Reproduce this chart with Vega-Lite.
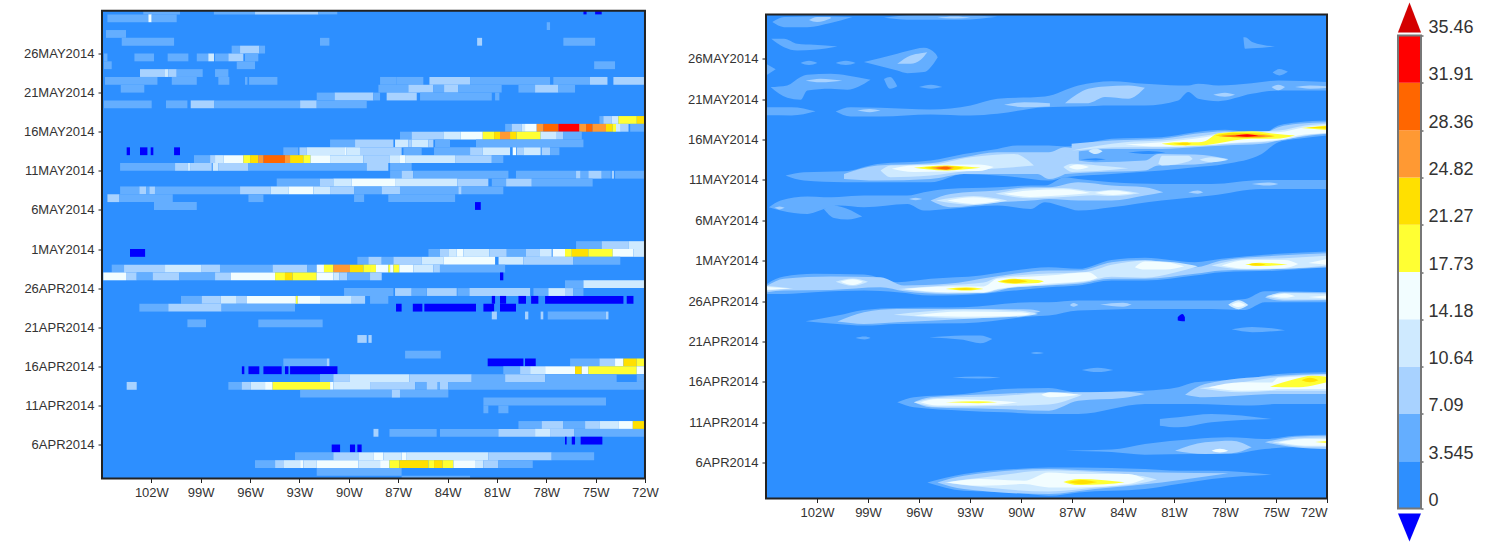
{"$schema":"https://vega.github.io/schema/vega-lite/v6.json","background":"white","padding":{"left":23,"top":1.5,"right":0,"bottom":0},"bounds":"flush","spacing":71,"config":{"view":{"stroke":null},"axis":{"grid":false,"domain":false,"labelFont":"Liberation Sans","labelFontSize":13,"labelColor":"#333","tickColor":"#222","tickSize":4,"labelPadding":4}},
"datasets":{"left":[
{"lon0":-102.49,"lon1":-100.26,"d0":61,"d1":61.48,"v":5},{"lon0":-98.2,"lon1":-95.7,"d0":61,"d1":61.48,"v":5},{"lon0":-95.7,"lon1":-91.85,"d0":61,"d1":61.48,"v":9},{"lon0":-91.85,"lon1":-90.7,"d0":61,"d1":61.48,"v":5},{"lon0":-75.74,"lon1":-75.55,"d0":61,"d1":61.48,"v":-2},{"lon0":-75.03,"lon1":-74.63,"d0":61,"d1":61.48,"v":-2},
{"lon0":-104.67,"lon1":-102.18,"d0":60,"d1":61,"v":5},{"lon0":-102.18,"lon1":-101.98,"d0":60,"d1":61,"v":16},{"lon0":-101.98,"lon1":-100.46,"d0":60,"d1":61,"v":5},
{"lon0":-77.97,"lon1":-77.77,"d0":59,"d1":60,"v":5},
{"lon0":-104.76,"lon1":-103.54,"d0":58,"d1":59,"v":5},
{"lon0":-103.8,"lon1":-100.62,"d0":57,"d1":58,"v":5},{"lon0":-91.75,"lon1":-91.18,"d0":57,"d1":58,"v":5},{"lon0":-82.2,"lon1":-81.9,"d0":57,"d1":58,"v":9},{"lon0":-76.96,"lon1":-75.03,"d0":57,"d1":58,"v":5},
{"lon0":-97.12,"lon1":-96.61,"d0":56,"d1":57,"v":5},{"lon0":-96.61,"lon1":-95.44,"d0":56,"d1":57,"v":9},{"lon0":-95.44,"lon1":-95.09,"d0":56,"d1":57,"v":5},
{"lon0":-104.88,"lon1":-104.67,"d0":55,"d1":56,"v":5},{"lon0":-103.03,"lon1":-101.84,"d0":55,"d1":56,"v":5},{"lon0":-101.01,"lon1":-99.75,"d0":55,"d1":56,"v":5},{"lon0":-99.24,"lon1":-98.54,"d0":55,"d1":56,"v":5},{"lon0":-98.54,"lon1":-98.19,"d0":55,"d1":56,"v":12},{"lon0":-98.13,"lon1":-97.32,"d0":55,"d1":56,"v":5},{"lon0":-97.32,"lon1":-96.41,"d0":55,"d1":56,"v":9},{"lon0":-96.31,"lon1":-95.5,"d0":55,"d1":56,"v":5},
{"lon0":-104.88,"lon1":-104.41,"d0":54,"d1":55,"v":5},{"lon0":-96.81,"lon1":-95.7,"d0":54,"d1":55,"v":5},{"lon0":-75.09,"lon1":-73.82,"d0":54,"d1":55,"v":5},
{"lon0":-102.69,"lon1":-101.17,"d0":53,"d1":54,"v":9},{"lon0":-101.17,"lon1":-100.97,"d0":53,"d1":54,"v":12},{"lon0":-100.97,"lon1":-100.46,"d0":53,"d1":54,"v":9},{"lon0":-100.46,"lon1":-98.88,"d0":53,"d1":54,"v":5},{"lon0":-98.13,"lon1":-97.32,"d0":53,"d1":54,"v":5},
{"lon0":-104.82,"lon1":-101.63,"d0":52,"d1":53,"v":5},{"lon0":-100.76,"lon1":-99.24,"d0":52,"d1":53,"v":5},{"lon0":-97.93,"lon1":-97.26,"d0":52,"d1":53,"v":5},{"lon0":-96.31,"lon1":-96.16,"d0":52,"d1":53,"v":5},{"lon0":-96.06,"lon1":-94.34,"d0":52,"d1":53,"v":5},{"lon0":-88.1,"lon1":-87.09,"d0":52,"d1":53,"v":5},{"lon0":-87.09,"lon1":-85.47,"d0":52,"d1":53,"v":5},{"lon0":-85.1,"lon1":-82.63,"d0":52,"d1":53,"v":9},{"lon0":-82.63,"lon1":-77.77,"d0":52,"d1":53,"v":5},{"lon0":-77.57,"lon1":-75.34,"d0":52,"d1":53,"v":5},{"lon0":-75.34,"lon1":-74.28,"d0":52,"d1":53,"v":9},{"lon0":-73.92,"lon1":-72,"d0":52,"d1":53,"v":9},
{"lon0":-103.86,"lon1":-102.43,"d0":51,"d1":52,"v":5},{"lon0":-88.2,"lon1":-86.38,"d0":51,"d1":52,"v":5},{"lon0":-86.38,"lon1":-84.86,"d0":51,"d1":52,"v":9},{"lon0":-84.86,"lon1":-84.21,"d0":51,"d1":52,"v":5},{"lon0":-84.21,"lon1":-83.34,"d0":51,"d1":52,"v":9},{"lon0":-83.34,"lon1":-80.71,"d0":51,"d1":52,"v":5},{"lon0":-79.69,"lon1":-78.68,"d0":51,"d1":52,"v":5},{"lon0":-78.68,"lon1":-77.26,"d0":51,"d1":52,"v":9},{"lon0":-77.26,"lon1":-76.25,"d0":51,"d1":52,"v":5},
{"lon0":-91.95,"lon1":-90.86,"d0":50,"d1":51,"v":5},{"lon0":-90.86,"lon1":-88.51,"d0":50,"d1":51,"v":9},{"lon0":-88.51,"lon1":-88.1,"d0":50,"d1":51,"v":5},{"lon0":-87.7,"lon1":-85.87,"d0":50,"d1":51,"v":9},{"lon0":-85.67,"lon1":-81.31,"d0":50,"d1":51,"v":5},{"lon0":-81.11,"lon1":-80.85,"d0":50,"d1":51,"v":5},
{"lon0":-104.88,"lon1":-101.98,"d0":49,"d1":50,"v":5},{"lon0":-101.11,"lon1":-99.81,"d0":49,"d1":50,"v":5},{"lon0":-99.61,"lon1":-98.17,"d0":49,"d1":50,"v":9},{"lon0":-98.17,"lon1":-92.96,"d0":49,"d1":50,"v":5},{"lon0":-92.96,"lon1":-91.95,"d0":49,"d1":50,"v":9},{"lon0":-91.95,"lon1":-88.91,"d0":49,"d1":50,"v":5},
{"lon0":-74.77,"lon1":-74.53,"d0":47,"d1":48,"v":5},{"lon0":-74.53,"lon1":-74.02,"d0":47,"d1":48,"v":9},{"lon0":-74.02,"lon1":-73.62,"d0":47,"d1":48,"v":12},{"lon0":-73.62,"lon1":-72.5,"d0":47,"d1":48,"v":19},{"lon0":-72.5,"lon1":-72,"d0":47,"d1":48,"v":23},
{"lon0":-80.5,"lon1":-80.1,"d0":46,"d1":47,"v":5},{"lon0":-80.1,"lon1":-79.49,"d0":46,"d1":47,"v":9},{"lon0":-79.49,"lon1":-79.29,"d0":46,"d1":47,"v":12},{"lon0":-79.29,"lon1":-78.58,"d0":46,"d1":47,"v":16},{"lon0":-78.58,"lon1":-78.18,"d0":46,"d1":47,"v":26},{"lon0":-78.18,"lon1":-77.26,"d0":46,"d1":47,"v":30},{"lon0":-77.26,"lon1":-75.99,"d0":46,"d1":47,"v":33},{"lon0":-75.99,"lon1":-75.58,"d0":46,"d1":47,"v":26},{"lon0":-75.58,"lon1":-75.18,"d0":46,"d1":47,"v":30},{"lon0":-75.18,"lon1":-74.37,"d0":46,"d1":47,"v":26},{"lon0":-74.37,"lon1":-73.96,"d0":46,"d1":47,"v":23},{"lon0":-73.96,"lon1":-73.76,"d0":46,"d1":47,"v":19},{"lon0":-73.76,"lon1":-73.47,"d0":46,"d1":47,"v":12},{"lon0":-73.47,"lon1":-73,"d0":46,"d1":47,"v":9},{"lon0":-72.9,"lon1":-72,"d0":46,"d1":47,"v":5},
{"lon0":-86.89,"lon1":-86.18,"d0":45,"d1":46,"v":5},{"lon0":-86.18,"lon1":-84.25,"d0":45,"d1":46,"v":9},{"lon0":-84.25,"lon1":-83.2,"d0":45,"d1":46,"v":12},{"lon0":-83.2,"lon1":-81.86,"d0":45,"d1":46,"v":16},{"lon0":-81.86,"lon1":-81.17,"d0":45,"d1":46,"v":19},{"lon0":-81.17,"lon1":-80.81,"d0":45,"d1":46,"v":23},{"lon0":-80.81,"lon1":-80.2,"d0":45,"d1":46,"v":26},{"lon0":-80.2,"lon1":-79.8,"d0":45,"d1":46,"v":23},{"lon0":-79.8,"lon1":-78.34,"d0":45,"d1":46,"v":19},{"lon0":-78.34,"lon1":-77.36,"d0":45,"d1":46,"v":12},{"lon0":-77.36,"lon1":-76.96,"d0":45,"d1":46,"v":9},{"lon0":-76.96,"lon1":-75.84,"d0":45,"d1":46,"v":5},
{"lon0":-91.14,"lon1":-89.62,"d0":44,"d1":45,"v":5},{"lon0":-89.62,"lon1":-87.29,"d0":44,"d1":45,"v":9},{"lon0":-87.19,"lon1":-86.38,"d0":44,"d1":45,"v":12},{"lon0":-86.38,"lon1":-86.18,"d0":44,"d1":45,"v":9},{"lon0":-86.18,"lon1":-85.16,"d0":44,"d1":45,"v":12},{"lon0":-85.16,"lon1":-84.86,"d0":44,"d1":45,"v":9},{"lon0":-84.76,"lon1":-83.85,"d0":44,"d1":45,"v":5},{"lon0":-82.27,"lon1":-75.74,"d0":44,"d1":45,"v":5},
{"lon0":-103.5,"lon1":-103.3,"d0":43,"d1":44,"v":-2},{"lon0":-102.69,"lon1":-102.24,"d0":43,"d1":44,"v":-2},{"lon0":-102.04,"lon1":-101.88,"d0":43,"d1":44,"v":-2},{"lon0":-100.62,"lon1":-100.26,"d0":43,"d1":44,"v":-2},{"lon0":-93.98,"lon1":-93.07,"d0":43,"d1":44,"v":5},{"lon0":-93,"lon1":-92.56,"d0":43,"d1":44,"v":9},{"lon0":-92.56,"lon1":-90.23,"d0":43,"d1":44,"v":12},{"lon0":-90.23,"lon1":-90.13,"d0":43,"d1":44,"v":16},{"lon0":-90.13,"lon1":-89.32,"d0":43,"d1":44,"v":12},{"lon0":-89.32,"lon1":-86.79,"d0":43,"d1":44,"v":9},{"lon0":-86.68,"lon1":-85.57,"d0":43,"d1":44,"v":5},{"lon0":-84.82,"lon1":-82.63,"d0":43,"d1":44,"v":5},{"lon0":-82.63,"lon1":-81.86,"d0":43,"d1":44,"v":9},{"lon0":-81.86,"lon1":-80.2,"d0":43,"d1":44,"v":12},{"lon0":-80.04,"lon1":-79.84,"d0":43,"d1":44,"v":16},{"lon0":-79.8,"lon1":-79.39,"d0":43,"d1":44,"v":9},{"lon0":-79.39,"lon1":-78.34,"d0":43,"d1":44,"v":12},{"lon0":-78.28,"lon1":-77.77,"d0":43,"d1":44,"v":9},{"lon0":-77.77,"lon1":-77.2,"d0":43,"d1":44,"v":5},
{"lon0":-99.41,"lon1":-98.43,"d0":42,"d1":43,"v":5},{"lon0":-98.43,"lon1":-98.13,"d0":42,"d1":43,"v":9},{"lon0":-98.13,"lon1":-97.62,"d0":42,"d1":43,"v":12},{"lon0":-97.62,"lon1":-96.41,"d0":42,"d1":43,"v":16},{"lon0":-96.41,"lon1":-96,"d0":42,"d1":43,"v":19},{"lon0":-96,"lon1":-95.5,"d0":42,"d1":43,"v":23},{"lon0":-95.5,"lon1":-95.19,"d0":42,"d1":43,"v":26},{"lon0":-95.19,"lon1":-93.88,"d0":42,"d1":43,"v":30},{"lon0":-93.88,"lon1":-93.57,"d0":42,"d1":43,"v":26},{"lon0":-93.57,"lon1":-92.76,"d0":42,"d1":43,"v":23},{"lon0":-92.76,"lon1":-92.32,"d0":42,"d1":43,"v":19},{"lon0":-92.32,"lon1":-91.14,"d0":42,"d1":43,"v":16},{"lon0":-91.14,"lon1":-89.11,"d0":42,"d1":43,"v":12},{"lon0":-89.11,"lon1":-87.53,"d0":42,"d1":43,"v":9},{"lon0":-87.53,"lon1":-86.89,"d0":42,"d1":43,"v":12},{"lon0":-86.89,"lon1":-86.58,"d0":42,"d1":43,"v":16},{"lon0":-86.58,"lon1":-83.54,"d0":42,"d1":43,"v":12},{"lon0":-83.54,"lon1":-81.31,"d0":42,"d1":43,"v":9},{"lon0":-81.31,"lon1":-80.61,"d0":42,"d1":43,"v":5},
{"lon0":-103.9,"lon1":-100.56,"d0":41,"d1":42,"v":5},{"lon0":-100.56,"lon1":-99.81,"d0":41,"d1":42,"v":9},{"lon0":-99.81,"lon1":-99.61,"d0":41,"d1":42,"v":12},{"lon0":-99.61,"lon1":-98.33,"d0":41,"d1":42,"v":9},{"lon0":-98.27,"lon1":-97.93,"d0":41,"d1":42,"v":12},{"lon0":-97.93,"lon1":-96.1,"d0":41,"d1":42,"v":9},{"lon0":-96.1,"lon1":-88.91,"d0":41,"d1":42,"v":5},{"lon0":-88.91,"lon1":-87.6,"d0":41,"d1":42,"v":9},{"lon0":-87.49,"lon1":-86.18,"d0":41,"d1":42,"v":5},
{"lon0":-87.49,"lon1":-86.79,"d0":40,"d1":41,"v":5},{"lon0":-86.79,"lon1":-86.08,"d0":40,"d1":41,"v":9},{"lon0":-86.08,"lon1":-80.3,"d0":40,"d1":41,"v":5},{"lon0":-79.84,"lon1":-76.19,"d0":40,"d1":41,"v":5},{"lon0":-76.19,"lon1":-75.91,"d0":40,"d1":41,"v":9},{"lon0":-75.91,"lon1":-75.44,"d0":40,"d1":41,"v":5},{"lon0":-75.44,"lon1":-74.63,"d0":40,"d1":41,"v":9},{"lon0":-74.63,"lon1":-74.08,"d0":40,"d1":41,"v":5},{"lon0":-74.02,"lon1":-73.88,"d0":40,"d1":41,"v":9},{"lon0":-73.82,"lon1":-72,"d0":40,"d1":41,"v":5},
{"lon0":-94.38,"lon1":-91.75,"d0":39,"d1":40,"v":5},{"lon0":-91.75,"lon1":-90.94,"d0":39,"d1":40,"v":9},{"lon0":-90.94,"lon1":-89.82,"d0":39,"d1":40,"v":12},{"lon0":-89.82,"lon1":-87.19,"d0":39,"d1":40,"v":16},{"lon0":-87.19,"lon1":-83.4,"d0":39,"d1":40,"v":12},{"lon0":-83.4,"lon1":-81.52,"d0":39,"d1":40,"v":9},{"lon0":-81.31,"lon1":-80.44,"d0":39,"d1":40,"v":5},{"lon0":-80.44,"lon1":-78.88,"d0":39,"d1":40,"v":9},{"lon0":-78.88,"lon1":-75.18,"d0":39,"d1":40,"v":5},
{"lon0":-103.9,"lon1":-102.73,"d0":38,"d1":39,"v":5},{"lon0":-102.73,"lon1":-102.32,"d0":38,"d1":39,"v":9},{"lon0":-102.32,"lon1":-102.12,"d0":38,"d1":39,"v":5},{"lon0":-102.12,"lon1":-101.78,"d0":38,"d1":39,"v":9},{"lon0":-101.78,"lon1":-96.61,"d0":38,"d1":39,"v":5},{"lon0":-96.61,"lon1":-94.75,"d0":38,"d1":39,"v":9},{"lon0":-94.75,"lon1":-93.67,"d0":38,"d1":39,"v":12},{"lon0":-93.67,"lon1":-92.15,"d0":38,"d1":39,"v":16},{"lon0":-92.15,"lon1":-91.14,"d0":38,"d1":39,"v":12},{"lon0":-91.14,"lon1":-89.68,"d0":38,"d1":39,"v":9},{"lon0":-89.68,"lon1":-88,"d0":38,"d1":39,"v":5},{"lon0":-88,"lon1":-86.89,"d0":38,"d1":39,"v":9},{"lon0":-86.89,"lon1":-83.34,"d0":38,"d1":39,"v":5},{"lon0":-83.34,"lon1":-83.14,"d0":38,"d1":39,"v":9},{"lon0":-83.14,"lon1":-80.61,"d0":38,"d1":39,"v":5},
{"lon0":-104.67,"lon1":-103.94,"d0":37,"d1":38,"v":9},{"lon0":-103.94,"lon1":-100.7,"d0":37,"d1":38,"v":5},{"lon0":-96.1,"lon1":-95.19,"d0":37,"d1":38,"v":5},{"lon0":-89.68,"lon1":-89.07,"d0":37,"d1":38,"v":5},{"lon0":-87.6,"lon1":-83.54,"d0":37,"d1":38,"v":5},
{"lon0":-101.84,"lon1":-99.24,"d0":36,"d1":37,"v":5},{"lon0":-82.33,"lon1":-81.98,"d0":36,"d1":37,"v":-2},
{"lon0":-76.19,"lon1":-74.63,"d0":31,"d1":32,"v":5},{"lon0":-74.63,"lon1":-73,"d0":31,"d1":32,"v":9},{"lon0":-73,"lon1":-72,"d0":31,"d1":32,"v":12},
{"lon0":-103.3,"lon1":-102.38,"d0":30,"d1":31,"v":-2},{"lon0":-85.16,"lon1":-84.46,"d0":30,"d1":31,"v":5},{"lon0":-84.46,"lon1":-83.95,"d0":30,"d1":31,"v":9},{"lon0":-83.95,"lon1":-83.44,"d0":30,"d1":31,"v":12},{"lon0":-83.44,"lon1":-83.04,"d0":30,"d1":31,"v":16},{"lon0":-83.04,"lon1":-81.46,"d0":30,"d1":31,"v":12},{"lon0":-81.46,"lon1":-80.4,"d0":30,"d1":31,"v":9},{"lon0":-80.4,"lon1":-79.23,"d0":30,"d1":31,"v":5},{"lon0":-79.23,"lon1":-78.42,"d0":30,"d1":31,"v":9},{"lon0":-78.42,"lon1":-77.67,"d0":30,"d1":31,"v":12},{"lon0":-77.61,"lon1":-76.86,"d0":30,"d1":31,"v":16},{"lon0":-76.86,"lon1":-76.45,"d0":30,"d1":31,"v":19},{"lon0":-76.45,"lon1":-75.44,"d0":30,"d1":31,"v":23},{"lon0":-75.44,"lon1":-73.96,"d0":30,"d1":31,"v":19},{"lon0":-73.96,"lon1":-72.7,"d0":30,"d1":31,"v":16},{"lon0":-72.7,"lon1":-72,"d0":30,"d1":31,"v":12},
{"lon0":-89.48,"lon1":-88.81,"d0":29,"d1":30,"v":5},{"lon0":-88.81,"lon1":-88,"d0":29,"d1":30,"v":9},{"lon0":-88,"lon1":-87.29,"d0":29,"d1":30,"v":5},{"lon0":-87.29,"lon1":-85.57,"d0":29,"d1":30,"v":9},{"lon0":-85.57,"lon1":-84.25,"d0":29,"d1":30,"v":12},{"lon0":-84.25,"lon1":-81.11,"d0":29,"d1":30,"v":16},{"lon0":-80.9,"lon1":-79.39,"d0":29,"d1":30,"v":12},{"lon0":-79.39,"lon1":-76.35,"d0":29,"d1":30,"v":9},{"lon0":-76.35,"lon1":-73.5,"d0":29,"d1":30,"v":5},
{"lon0":-104.41,"lon1":-103.66,"d0":28,"d1":29,"v":5},{"lon0":-103.66,"lon1":-101.17,"d0":28,"d1":29,"v":9},{"lon0":-101.17,"lon1":-98.94,"d0":28,"d1":29,"v":12},{"lon0":-98.94,"lon1":-97.83,"d0":28,"d1":29,"v":9},{"lon0":-97.83,"lon1":-94.63,"d0":28,"d1":29,"v":5},{"lon0":-94.63,"lon1":-92.52,"d0":28,"d1":29,"v":9},{"lon0":-92.52,"lon1":-91.95,"d0":28,"d1":29,"v":5},{"lon0":-91.95,"lon1":-91.51,"d0":28,"d1":29,"v":16},{"lon0":-91.51,"lon1":-90.94,"d0":28,"d1":29,"v":19},{"lon0":-90.94,"lon1":-89.93,"d0":28,"d1":29,"v":26},{"lon0":-89.93,"lon1":-89.11,"d0":28,"d1":29,"v":23},{"lon0":-89.11,"lon1":-88.71,"d0":28,"d1":29,"v":19},{"lon0":-88.71,"lon1":-88.35,"d0":28,"d1":29,"v":19},{"lon0":-88.35,"lon1":-87.6,"d0":28,"d1":29,"v":16},{"lon0":-87.6,"lon1":-87.49,"d0":28,"d1":29,"v":19},{"lon0":-87.49,"lon1":-87.29,"d0":28,"d1":29,"v":16},{"lon0":-87.29,"lon1":-86.93,"d0":28,"d1":29,"v":19},{"lon0":-86.93,"lon1":-86.08,"d0":28,"d1":29,"v":16},{"lon0":-86.08,"lon1":-84.86,"d0":28,"d1":29,"v":12},{"lon0":-84.86,"lon1":-84.46,"d0":28,"d1":29,"v":9},{"lon0":-84.46,"lon1":-80.5,"d0":28,"d1":29,"v":5},
{"lon0":-104.92,"lon1":-103.54,"d0":27,"d1":28,"v":16},{"lon0":-103.54,"lon1":-102.89,"d0":27,"d1":28,"v":9},{"lon0":-102.89,"lon1":-101.92,"d0":27,"d1":28,"v":5},{"lon0":-101.92,"lon1":-100.3,"d0":27,"d1":28,"v":9},{"lon0":-100.3,"lon1":-98.13,"d0":27,"d1":28,"v":5},{"lon0":-98.13,"lon1":-97.18,"d0":27,"d1":28,"v":9},{"lon0":-97.18,"lon1":-94.48,"d0":27,"d1":28,"v":16},{"lon0":-94.48,"lon1":-93.88,"d0":27,"d1":28,"v":19},{"lon0":-93.88,"lon1":-93.41,"d0":27,"d1":28,"v":23},{"lon0":-93.41,"lon1":-91.95,"d0":27,"d1":28,"v":19},{"lon0":-91.95,"lon1":-90.94,"d0":27,"d1":28,"v":16},{"lon0":-90.94,"lon1":-90.57,"d0":27,"d1":28,"v":12},{"lon0":-90.57,"lon1":-90.09,"d0":27,"d1":28,"v":9},{"lon0":-90.09,"lon1":-88.71,"d0":27,"d1":28,"v":5},{"lon0":-88.71,"lon1":-88,"d0":27,"d1":28,"v":9},{"lon0":-80.81,"lon1":-80.61,"d0":27,"d1":28,"v":-2},
{"lon0":-76.86,"lon1":-75.74,"d0":26,"d1":27,"v":5},{"lon0":-75.74,"lon1":-72,"d0":26,"d1":27,"v":12},
{"lon0":-90.29,"lon1":-87.29,"d0":25,"d1":26,"v":5},{"lon0":-87.19,"lon1":-86.18,"d0":25,"d1":26,"v":9},{"lon0":-86.18,"lon1":-85.31,"d0":25,"d1":26,"v":5},{"lon0":-85.27,"lon1":-83.44,"d0":25,"d1":26,"v":9},{"lon0":-83.4,"lon1":-82.67,"d0":25,"d1":26,"v":5},{"lon0":-82.67,"lon1":-78.98,"d0":25,"d1":26,"v":9},{"lon0":-78.78,"lon1":-77.87,"d0":25,"d1":26,"v":5},{"lon0":-77.87,"lon1":-76.86,"d0":25,"d1":26,"v":12},{"lon0":-76.86,"lon1":-76.35,"d0":25,"d1":26,"v":9},{"lon0":-76.35,"lon1":-75.74,"d0":25,"d1":26,"v":5},
{"lon0":-100.2,"lon1":-98.94,"d0":24,"d1":25,"v":5},{"lon0":-98.94,"lon1":-97.79,"d0":24,"d1":25,"v":9},{"lon0":-97.79,"lon1":-96.81,"d0":24,"d1":25,"v":12},{"lon0":-96.81,"lon1":-96.21,"d0":24,"d1":25,"v":9},{"lon0":-96.21,"lon1":-93.22,"d0":24,"d1":25,"v":16},{"lon0":-93.22,"lon1":-93.1,"d0":24,"d1":25,"v":19},{"lon0":-93.1,"lon1":-91.75,"d0":24,"d1":25,"v":16},{"lon0":-91.75,"lon1":-89.82,"d0":24,"d1":25,"v":12},{"lon0":-89.82,"lon1":-89.01,"d0":24,"d1":25,"v":9},{"lon0":-88.71,"lon1":-87.6,"d0":24,"d1":25,"v":5},{"lon0":-81.31,"lon1":-81.11,"d0":24,"d1":25,"v":-2},{"lon0":-80.81,"lon1":-80.44,"d0":24,"d1":25,"v":-2},{"lon0":-79.69,"lon1":-79.23,"d0":24,"d1":25,"v":-2},{"lon0":-78.92,"lon1":-78.48,"d0":24,"d1":25,"v":-2},{"lon0":-78.07,"lon1":-73.31,"d0":24,"d1":25,"v":-2},{"lon0":-73.11,"lon1":-72.7,"d0":24,"d1":25,"v":-2},
{"lon0":-102.73,"lon1":-100.97,"d0":23,"d1":24,"v":5},{"lon0":-100.97,"lon1":-97.73,"d0":23,"d1":24,"v":9},{"lon0":-97.73,"lon1":-93.27,"d0":23,"d1":24,"v":5},{"lon0":-87.13,"lon1":-86.79,"d0":23,"d1":24,"v":-2},{"lon0":-86.11,"lon1":-85.53,"d0":23,"d1":24,"v":-2},{"lon0":-85.41,"lon1":-82.27,"d0":23,"d1":24,"v":-2},{"lon0":-81.82,"lon1":-81.17,"d0":23,"d1":24,"v":-2},{"lon0":-80.81,"lon1":-79.84,"d0":23,"d1":24,"v":-2},
{"lon0":-81.31,"lon1":-81,"d0":22,"d1":23,"v":9},{"lon0":-79.29,"lon1":-79.09,"d0":22,"d1":23,"v":9},{"lon0":-78.34,"lon1":-78.18,"d0":22,"d1":23,"v":9},{"lon0":-77.91,"lon1":-74.37,"d0":22,"d1":23,"v":5},{"lon0":-74.37,"lon1":-74.22,"d0":22,"d1":23,"v":9},
{"lon0":-99.81,"lon1":-98.68,"d0":21,"d1":22,"v":5},{"lon0":-95.5,"lon1":-91.59,"d0":21,"d1":22,"v":5},
{"lon0":-89.48,"lon1":-88.91,"d0":19,"d1":20,"v":9},{"lon0":-88.81,"lon1":-88.61,"d0":19,"d1":20,"v":9},
{"lon0":-86.58,"lon1":-84.41,"d0":17,"d1":18,"v":5},
{"lon0":-93.98,"lon1":-91.34,"d0":16,"d1":17,"v":5},{"lon0":-91.34,"lon1":-91.18,"d0":16,"d1":17,"v":9},{"lon0":-81.56,"lon1":-79.39,"d0":16,"d1":17,"v":-2},{"lon0":-79.29,"lon1":-78.64,"d0":16,"d1":17,"v":-2},{"lon0":-76.55,"lon1":-74.77,"d0":16,"d1":17,"v":5},{"lon0":-74.77,"lon1":-73.82,"d0":16,"d1":17,"v":9},{"lon0":-73.82,"lon1":-73.31,"d0":16,"d1":17,"v":16},{"lon0":-73.31,"lon1":-72.5,"d0":16,"d1":17,"v":23},{"lon0":-72.5,"lon1":-72,"d0":16,"d1":17,"v":19},
{"lon0":-96.5,"lon1":-96.35,"d0":15,"d1":16,"v":-2},{"lon0":-96.1,"lon1":-95.44,"d0":15,"d1":16,"v":-2},{"lon0":-95.19,"lon1":-94.08,"d0":15,"d1":16,"v":-2},{"lon0":-93.88,"lon1":-93.67,"d0":15,"d1":16,"v":-2},{"lon0":-93.57,"lon1":-90.69,"d0":15,"d1":16,"v":-2},{"lon0":-80.61,"lon1":-79.59,"d0":15,"d1":16,"v":5},{"lon0":-79.59,"lon1":-78.98,"d0":15,"d1":16,"v":9},{"lon0":-78.98,"lon1":-78.07,"d0":15,"d1":16,"v":12},{"lon0":-78.07,"lon1":-76.25,"d0":15,"d1":16,"v":16},{"lon0":-76.25,"lon1":-75.84,"d0":15,"d1":16,"v":23},{"lon0":-75.84,"lon1":-75.44,"d0":15,"d1":16,"v":16},{"lon0":-75.44,"lon1":-72.5,"d0":15,"d1":16,"v":19},{"lon0":-72.5,"lon1":-72,"d0":15,"d1":16,"v":16},
{"lon0":-91.75,"lon1":-90.94,"d0":14,"d1":15,"v":5},{"lon0":-90.94,"lon1":-89.93,"d0":14,"d1":15,"v":9},{"lon0":-89.93,"lon1":-86.32,"d0":14,"d1":15,"v":12},{"lon0":-86.32,"lon1":-82.53,"d0":14,"d1":15,"v":9},{"lon0":-82.53,"lon1":-80.5,"d0":14,"d1":15,"v":5},{"lon0":-80.5,"lon1":-78.07,"d0":14,"d1":15,"v":9},{"lon0":-78.07,"lon1":-73.72,"d0":14,"d1":15,"v":5},{"lon0":-72.5,"lon1":-72,"d0":14,"d1":15,"v":5},
{"lon0":-103.5,"lon1":-102.89,"d0":13,"d1":14,"v":9},{"lon0":-97.32,"lon1":-96.51,"d0":13,"d1":14,"v":5},{"lon0":-96.51,"lon1":-95.96,"d0":13,"d1":14,"v":9},{"lon0":-95.96,"lon1":-95.09,"d0":13,"d1":14,"v":12},{"lon0":-95.09,"lon1":-94.63,"d0":13,"d1":14,"v":16},{"lon0":-94.63,"lon1":-91.14,"d0":13,"d1":14,"v":19},{"lon0":-91.14,"lon1":-90.94,"d0":13,"d1":14,"v":16},{"lon0":-90.94,"lon1":-88.67,"d0":13,"d1":14,"v":12},{"lon0":-88.67,"lon1":-85.97,"d0":13,"d1":14,"v":9},{"lon0":-85.97,"lon1":-85.27,"d0":13,"d1":14,"v":5},{"lon0":-85.27,"lon1":-84.6,"d0":13,"d1":14,"v":9},{"lon0":-84.6,"lon1":-84.46,"d0":13,"d1":14,"v":5},{"lon0":-84.46,"lon1":-83.95,"d0":13,"d1":14,"v":9},{"lon0":-83.95,"lon1":-72,"d0":13,"d1":14,"v":5},
{"lon0":-92.96,"lon1":-87.39,"d0":12,"d1":13,"v":5},{"lon0":-87.39,"lon1":-86.89,"d0":12,"d1":13,"v":9},{"lon0":-86.89,"lon1":-83.95,"d0":12,"d1":13,"v":5},
{"lon0":-81.82,"lon1":-74.37,"d0":11,"d1":12,"v":5},
{"lon0":-81.82,"lon1":-81.52,"d0":10,"d1":11,"v":5},{"lon0":-80.91,"lon1":-80.3,"d0":10,"d1":11,"v":5},
{"lon0":-79.69,"lon1":-78.28,"d0":8,"d1":9,"v":5},{"lon0":-78.28,"lon1":-76.96,"d0":8,"d1":9,"v":9},{"lon0":-76.96,"lon1":-75.64,"d0":8,"d1":9,"v":5},{"lon0":-75.64,"lon1":-74.77,"d0":8,"d1":9,"v":9},{"lon0":-74.77,"lon1":-73.62,"d0":8,"d1":9,"v":12},{"lon0":-73.62,"lon1":-72.74,"d0":8,"d1":9,"v":16},{"lon0":-72.74,"lon1":-72,"d0":8,"d1":9,"v":23},
{"lon0":-88.5,"lon1":-88.2,"d0":7,"d1":8,"v":9},{"lon0":-87.53,"lon1":-84.66,"d0":7,"d1":8,"v":5},{"lon0":-84.46,"lon1":-80.91,"d0":7,"d1":8,"v":5},{"lon0":-80.91,"lon1":-78.68,"d0":7,"d1":8,"v":9},{"lon0":-78.68,"lon1":-77.77,"d0":7,"d1":8,"v":12},{"lon0":-77.77,"lon1":-76.31,"d0":7,"d1":8,"v":9},{"lon0":-76.31,"lon1":-72,"d0":7,"d1":8,"v":5},
{"lon0":-76.86,"lon1":-76.76,"d0":6,"d1":7,"v":-2},{"lon0":-76.45,"lon1":-76.25,"d0":6,"d1":7,"v":-2},{"lon0":-75.91,"lon1":-74.59,"d0":6,"d1":7,"v":-2},
{"lon0":-91.04,"lon1":-90.53,"d0":5,"d1":6,"v":-2},{"lon0":-89.93,"lon1":-89.62,"d0":5,"d1":6,"v":-2},{"lon0":-89.48,"lon1":-89.22,"d0":5,"d1":6,"v":-2},
{"lon0":-93.27,"lon1":-90.94,"d0":4,"d1":5,"v":5},{"lon0":-90.94,"lon1":-89.42,"d0":4,"d1":5,"v":9},{"lon0":-89.42,"lon1":-88.51,"d0":4,"d1":5,"v":12},{"lon0":-88.51,"lon1":-87.9,"d0":4,"d1":5,"v":16},{"lon0":-87.9,"lon1":-86.79,"d0":4,"d1":5,"v":12},{"lon0":-86.79,"lon1":-86.48,"d0":4,"d1":5,"v":16},{"lon0":-86.48,"lon1":-81.52,"d0":4,"d1":5,"v":12},{"lon0":-81.52,"lon1":-77.67,"d0":4,"d1":5,"v":9},{"lon0":-77.67,"lon1":-75.09,"d0":4,"d1":5,"v":5},
{"lon0":-95.7,"lon1":-94.48,"d0":3,"d1":4,"v":5},{"lon0":-94.48,"lon1":-93.94,"d0":3,"d1":4,"v":9},{"lon0":-93.94,"lon1":-92.96,"d0":3,"d1":4,"v":12},{"lon0":-92.96,"lon1":-92.76,"d0":3,"d1":4,"v":16},{"lon0":-92.76,"lon1":-91.95,"d0":3,"d1":4,"v":12},{"lon0":-91.95,"lon1":-89.42,"d0":3,"d1":4,"v":16},{"lon0":-89.42,"lon1":-88.1,"d0":3,"d1":4,"v":12},{"lon0":-88.1,"lon1":-87.53,"d0":3,"d1":4,"v":16},{"lon0":-87.53,"lon1":-86.93,"d0":3,"d1":4,"v":19},{"lon0":-86.93,"lon1":-85.16,"d0":3,"d1":4,"v":23},{"lon0":-85.16,"lon1":-84.82,"d0":3,"d1":4,"v":19},{"lon0":-84.82,"lon1":-84.29,"d0":3,"d1":4,"v":23},{"lon0":-84.29,"lon1":-83.64,"d0":3,"d1":4,"v":19},{"lon0":-83.64,"lon1":-82.33,"d0":3,"d1":4,"v":16},{"lon0":-82.33,"lon1":-81.82,"d0":3,"d1":4,"v":12},{"lon0":-81.82,"lon1":-80.91,"d0":3,"d1":4,"v":9},{"lon0":-80.91,"lon1":-78.82,"d0":3,"d1":4,"v":5},
{"lon0":-91.95,"lon1":-86.79,"d0":2,"d1":3,"v":5},
{"lon0":-86.79,"lon1":-82.63,"d0":1.65,"d1":2,"v":5}
],"right":[
{"band":"A2","lon":-104.63,"lo":60.55,"hi":60.55,"v":5},{"band":"A2","lon":-103.94,"lo":59.93,"hi":61.17,"v":5},{"band":"A2","lon":-102.57,"lo":59.93,"hi":61.26,"v":5},{"band":"A2","lon":-101.2,"lo":60.43,"hi":61.26,"v":5},{"band":"A2","lon":-99.92,"lo":61.17,"hi":61.17,"v":5},
{"band":"A2b","lon":-98.06,"lo":61.1,"hi":61.1,"v":5},{"band":"A2b","lon":-96.3,"lo":60.84,"hi":61.4,"v":5},{"band":"A2b","lon":-93.5,"lo":60.84,"hi":61.4,"v":5},{"band":"A2b","lon":-91.39,"lo":61.2,"hi":61.2,"v":5},
{"band":"B2","lon":-104.69,"lo":58.49,"hi":58.49,"v":5},{"band":"B2","lon":-103.94,"lo":57.45,"hi":58.49,"v":5},{"band":"B2","lon":-103.16,"lo":57.04,"hi":57.87,"v":5},{"band":"B2","lon":-102.18,"lo":57.12,"hi":57.74,"v":5},{"band":"B2","lon":-100.8,"lo":57.54,"hi":57.54,"v":5},
{"band":"S1","lon":-102.96,"lo":55.5,"hi":55.5,"v":5},{"band":"S1","lon":-102.47,"lo":55.25,"hi":55.75,"v":5},{"band":"S1","lon":-101.98,"lo":55.5,"hi":55.5,"v":5},
{"band":"S2","lon":-100.9,"lo":55.5,"hi":55.5,"v":5},{"band":"S2","lon":-100.3,"lo":55.25,"hi":55.75,"v":5},{"band":"S2","lon":-99.73,"lo":55.5,"hi":55.5,"v":5},
{"band":"C2","lon":-99.24,"lo":55.6,"hi":55.6,"v":5},{"band":"C2","lon":-97.28,"lo":54.56,"hi":56.63,"v":5},{"band":"C2","lon":-96.69,"lo":54.23,"hi":56.96,"v":5},{"band":"C2","lon":-95.71,"lo":54.36,"hi":57.37,"v":5},{"band":"C2","lon":-95.02,"lo":55.8,"hi":56.63,"v":5},{"band":"C2","lon":-94.9,"lo":56.2,"hi":56.2,"v":5},
{"band":"E0","lon":-105,"lo":53.94,"hi":55.39,"v":5},{"band":"E0","lon":-104.43,"lo":54.7,"hi":54.7,"v":5},
{"band":"D2","lon":-104.73,"lo":52.5,"hi":52.5,"v":5},{"band":"D2","lon":-103.75,"lo":51.17,"hi":52.7,"v":5},{"band":"D2","lon":-102.96,"lo":50.93,"hi":53.74,"v":5},{"band":"D2","lon":-102.57,"lo":52.08,"hi":54.02,"v":5},{"band":"D2","lon":-101.2,"lo":52.29,"hi":54.15,"v":5},{"band":"D2","lon":-100.22,"lo":52.17,"hi":53.94,"v":5},{"band":"D2","lon":-98.85,"lo":53.4,"hi":53.4,"v":5},
{"band":"S3","lon":-98.06,"lo":53.5,"hi":53.5,"v":5},{"band":"S3","lon":-97.7,"lo":52.29,"hi":53.74,"v":5},{"band":"S3","lon":-97.28,"lo":52.6,"hi":52.6,"v":5},
{"band":"S4","lon":-96,"lo":52.5,"hi":52.5,"v":5},{"band":"S4","lon":-95.3,"lo":52.3,"hi":52.8,"v":5},{"band":"S4","lon":-94.63,"lo":52.5,"hi":52.5,"v":5},
{"band":"E2","lon":-105,"lo":49,"hi":50,"v":5},{"band":"E2","lon":-103.5,"lo":48.98,"hi":50.02,"v":5},{"band":"E2","lon":-102.08,"lo":49.5,"hi":49.5,"v":5},
{"band":"F2","lon":-100.9,"lo":49.48,"hi":49.48,"v":5},{"band":"F2","lon":-100.02,"lo":48.86,"hi":50.02,"v":5},{"band":"F2","lon":-98.26,"lo":48.86,"hi":49.93,"v":5},{"band":"F2","lon":-95.32,"lo":49.11,"hi":49.73,"v":5},{"band":"F2","lon":-92.96,"lo":48.98,"hi":50.22,"v":5},{"band":"F2","lon":-91.39,"lo":49.19,"hi":51.05,"v":5},{"band":"F2","lon":-88.59,"lo":50.02,"hi":51.34,"v":5},{"band":"F2","lon":-86.63,"lo":50.1,"hi":52.7,"v":5},{"band":"F2","lon":-84.67,"lo":50.22,"hi":53.24,"v":5},{"band":"F2","lon":-82.71,"lo":50.22,"hi":52.91,"v":5},{"band":"F2","lon":-80.75,"lo":50.84,"hi":52.7,"v":5},{"band":"F2","lon":-80.16,"lo":51.88,"hi":52.7,"v":5},{"band":"F2","lon":-79.57,"lo":51.05,"hi":52.91,"v":5},{"band":"F2","lon":-78.39,"lo":50.76,"hi":52.7,"v":5},{"band":"F2","lon":-76.43,"lo":51.67,"hi":52.99,"v":5},{"band":"F2","lon":-74.86,"lo":52.08,"hi":53.32,"v":5},{"band":"F2","lon":-72,"lo":52.08,"hi":53.12,"v":5},
{"band":"S5","lon":-76.92,"lo":58.69,"hi":58.69,"v":5},{"band":"S5","lon":-76.82,"lo":57.25,"hi":58.69,"v":5},{"band":"S5","lon":-76.4,"lo":57.3,"hi":58.1,"v":5},{"band":"S5","lon":-75.06,"lo":57.54,"hi":57.54,"v":5},
{"band":"S6","lon":-75.2,"lo":54.3,"hi":54.3,"v":5},{"band":"S6","lon":-74.8,"lo":53.95,"hi":54.75,"v":5},{"band":"S6","lon":-74.3,"lo":54.4,"hi":54.4,"v":5},
{"band":"G2","lon":-103.85,"lo":41.55,"hi":41.55,"v":5},{"band":"G2","lon":-102.77,"lo":40.93,"hi":41.96,"v":5},{"band":"G2","lon":-100.41,"lo":40.72,"hi":42.08,"v":5},{"band":"G2","lon":-98.45,"lo":40.72,"hi":42.99,"v":5},{"band":"G2","lon":-95.32,"lo":40.72,"hi":43.4,"v":5},{"band":"G2","lon":-93.36,"lo":41.75,"hi":44.23,"v":5},{"band":"G2","lon":-91.39,"lo":41.55,"hi":44.85,"v":5},{"band":"G2","lon":-90.22,"lo":41.34,"hi":45.26,"v":5},{"band":"G2","lon":-88.36,"lo":40.93,"hi":45.26,"v":5},{"band":"G2","lon":-87.41,"lo":41.34,"hi":45.14,"v":5},{"band":"G2","lon":-84.67,"lo":41.75,"hi":46.09,"v":5},{"band":"G2","lon":-81.73,"lo":42.17,"hi":46.3,"v":5},{"band":"G2","lon":-79.77,"lo":42.58,"hi":46.92,"v":5},{"band":"G2","lon":-78,"lo":42.99,"hi":47.21,"v":5},{"band":"G2","lon":-75.84,"lo":44.23,"hi":46.71,"v":5},{"band":"G2","lon":-74.86,"lo":45.68,"hi":47.74,"v":5},{"band":"G2","lon":-73.69,"lo":46.09,"hi":48.16,"v":5},{"band":"G2","lon":-72,"lo":46.5,"hi":48.36,"v":5},
{"band":"H2","lon":-104.83,"lo":37.62,"hi":37.62,"v":5},{"band":"H2","lon":-104.14,"lo":37.21,"hi":38.45,"v":5},{"band":"H2","lon":-102.57,"lo":36.79,"hi":38.94,"v":5},{"band":"H2","lon":-101.59,"lo":37.4,"hi":38.86,"v":5},{"band":"H2","lon":-100.71,"lo":37.83,"hi":38.9,"v":5},{"band":"H2","lon":-99.24,"lo":37.62,"hi":39.07,"v":5},{"band":"H2","lon":-96.69,"lo":38.03,"hi":39.07,"v":5},{"band":"H2","lon":-95.71,"lo":37.21,"hi":39.48,"v":5},{"band":"H2","lon":-94.34,"lo":37.41,"hi":39.89,"v":5},{"band":"H2","lon":-91.39,"lo":37.83,"hi":40.1,"v":5},{"band":"H2","lon":-89.43,"lo":37.41,"hi":40.31,"v":5},{"band":"H2","lon":-88.59,"lo":38.24,"hi":40.31,"v":5},{"band":"H2","lon":-87.41,"lo":37.62,"hi":41.34,"v":5},{"band":"H2","lon":-86.63,"lo":37.21,"hi":41.13,"v":5},{"band":"H2","lon":-84.67,"lo":37.62,"hi":40.72,"v":5},{"band":"H2","lon":-81.73,"lo":38.45,"hi":40.51,"v":5},{"band":"H2","lon":-78.79,"lo":39.07,"hi":40.51,"v":5},{"band":"H2","lon":-75.84,"lo":39.89,"hi":41.01,"v":5},{"band":"H2","lon":-72,"lo":39.89,"hi":41.01,"v":5},
{"band":"H2t","lon":-101.6,"lo":37.4,"hi":37.4,"v":5},{"band":"H2t","lon":-101,"lo":36.3,"hi":37.8,"v":5},{"band":"H2t","lon":-100.2,"lo":36.1,"hi":37.4,"v":5},{"band":"H2t","lon":-99.34,"lo":36.46,"hi":36.46,"v":5},
{"band":"I2","lon":-105,"lo":27,"hi":28,"v":5},{"band":"I2","lon":-104.92,"lo":26.89,"hi":28.13,"v":5},{"band":"I2","lon":-103.94,"lo":26.89,"hi":29.04,"v":5},{"band":"I2","lon":-102.18,"lo":27.09,"hi":29.37,"v":5},{"band":"I2","lon":-99.24,"lo":27.3,"hi":29.28,"v":5},{"band":"I2","lon":-97.28,"lo":27.09,"hi":28.33,"v":5},{"band":"I2","lon":-95.32,"lo":26.68,"hi":28.75,"v":5},{"band":"I2","lon":-92.37,"lo":26.89,"hi":29.16,"v":5},{"band":"I2","lon":-90.41,"lo":27.3,"hi":29.78,"v":5},{"band":"I2","lon":-88.36,"lo":27.71,"hi":30.19,"v":5},{"band":"I2","lon":-86.63,"lo":27.92,"hi":29.99,"v":5},{"band":"I2","lon":-84.67,"lo":28.54,"hi":31.1,"v":5},{"band":"I2","lon":-82.71,"lo":28.54,"hi":31.35,"v":5},{"band":"I2","lon":-79.77,"lo":29.16,"hi":30.81,"v":5},{"band":"I2","lon":-78.2,"lo":29.57,"hi":31.23,"v":5},{"band":"I2","lon":-74.86,"lo":29.78,"hi":31.85,"v":5},{"band":"I2","lon":-72,"lo":30.19,"hi":32.14,"v":5},
{"band":"J2","lon":-102.67,"lo":23.5,"hi":23.5,"v":5},{"band":"J2","lon":-100.8,"lo":23.17,"hi":24.2,"v":5},{"band":"J2","lon":-99.24,"lo":22.96,"hi":24.9,"v":5},{"band":"J2","lon":-97.28,"lo":23.17,"hi":25.15,"v":5},{"band":"J2","lon":-93.36,"lo":23.25,"hi":25.24,"v":5},{"band":"J2","lon":-89.43,"lo":24.08,"hi":25.85,"v":5},{"band":"J2","lon":-88.36,"lo":24.2,"hi":25.85,"v":5},{"band":"J2","lon":-86.63,"lo":24.82,"hi":26.06,"v":5},{"band":"J2","lon":-82.71,"lo":25.03,"hi":26.06,"v":5},{"band":"J2","lon":-78.79,"lo":25.03,"hi":26.06,"v":5},{"band":"J2","lon":-76.82,"lo":24.9,"hi":26.27,"v":5},{"band":"J2","lon":-75.65,"lo":25.85,"hi":27.22,"v":5},{"band":"J2","lon":-72,"lo":25.85,"hi":27.09,"v":5},
{"band":"T1","lon":-77.61,"lo":22.5,"hi":22.5,"v":5},{"band":"T1","lon":-76.4,"lo":22.15,"hi":22.8,"v":5},{"band":"T1","lon":-74.47,"lo":22.4,"hi":22.4,"v":5},
{"band":"T2","lon":-99.73,"lo":21.43,"hi":21.43,"v":5},{"band":"T2","lon":-99.2,"lo":21.25,"hi":21.6,"v":5},{"band":"T2","lon":-98.85,"lo":21.43,"hi":21.43,"v":5},
{"band":"T3","lon":-95.41,"lo":21.5,"hi":21.5,"v":5},{"band":"T3","lon":-93.4,"lo":21.2,"hi":21.75,"v":5},{"band":"T3","lon":-92.4,"lo":20.77,"hi":21.72,"v":5},{"band":"T3","lon":-91.69,"lo":21.3,"hi":21.3,"v":5},
{"band":"T4","lon":-89.43,"lo":19.57,"hi":19.57,"v":5},{"band":"T4","lon":-89.1,"lo":19.45,"hi":19.7,"v":5},{"band":"T4","lon":-88.65,"lo":19.57,"hi":19.57,"v":5},
{"band":"T5","lon":-86.43,"lo":17.47,"hi":17.47,"v":5},{"band":"T5","lon":-85.5,"lo":17.2,"hi":17.75,"v":5},{"band":"T5","lon":-84.57,"lo":17.47,"hi":17.47,"v":5},
{"band":"T6","lon":-94.04,"lo":16.52,"hi":16.52,"v":5},{"band":"T6","lon":-92.5,"lo":16.4,"hi":16.65,"v":5},{"band":"T6","lon":-91.2,"lo":16.52,"hi":16.52,"v":5},
{"band":"K2","lon":-97.28,"lo":13.46,"hi":13.46,"v":5},{"band":"K2","lon":-96.3,"lo":12.84,"hi":14.08,"v":5},{"band":"K2","lon":-93.36,"lo":12.43,"hi":14.49,"v":5},{"band":"K2","lon":-91,"lo":12.22,"hi":15.11,"v":5},{"band":"K2","lon":-88.36,"lo":12.01,"hi":15.24,"v":5},{"band":"K2","lon":-86.63,"lo":12.01,"hi":14.7,"v":5},{"band":"K2","lon":-82.71,"lo":13.25,"hi":14.9,"v":5},{"band":"K2","lon":-80.75,"lo":13.25,"hi":15.32,"v":5},{"band":"K2","lon":-79.77,"lo":13.25,"hi":15.94,"v":5},{"band":"K2","lon":-76.82,"lo":13.05,"hi":16.35,"v":5},{"band":"K2","lon":-74.86,"lo":13.25,"hi":16.97,"v":5},{"band":"K2","lon":-72,"lo":13.25,"hi":17.18,"v":5},
{"band":"L2","lon":-81.83,"lo":10.57,"hi":11.39,"v":5},{"band":"L2","lon":-80.75,"lo":10.36,"hi":11.6,"v":5},{"band":"L2","lon":-78.79,"lo":10.98,"hi":12.01,"v":5},{"band":"L2","lon":-75.26,"lo":11.39,"hi":11.39,"v":5},
{"band":"M2","lon":-87.41,"lo":7.47,"hi":7.47,"v":5},{"band":"M2","lon":-84.67,"lo":7.3,"hi":7.6,"v":5},{"band":"M2","lon":-82.71,"lo":6.97,"hi":8.29,"v":5},{"band":"M2","lon":-79.77,"lo":7.05,"hi":8.91,"v":5},{"band":"M2","lon":-77.81,"lo":7.05,"hi":9.12,"v":5},{"band":"M2","lon":-75.65,"lo":7.67,"hi":8.91,"v":5},{"band":"M2","lon":-73.88,"lo":7.88,"hi":9.33,"v":5},{"band":"M2","lon":-72,"lo":7.67,"hi":9.45,"v":5},
{"band":"N2","lon":-95.51,"lo":3.54,"hi":3.54,"v":5},{"band":"N2","lon":-93.36,"lo":2.51,"hi":4.57,"v":5},{"band":"N2","lon":-90.41,"lo":2.3,"hi":5.19,"v":5},{"band":"N2","lon":-88.36,"lo":1.89,"hi":5.4,"v":5},{"band":"N2","lon":-86.63,"lo":2.3,"hi":5.4,"v":5},{"band":"N2","lon":-82.71,"lo":2.71,"hi":5.19,"v":5},{"band":"N2","lon":-80.75,"lo":3.33,"hi":4.99,"v":5},{"band":"N2","lon":-78.79,"lo":3.95,"hi":4.99,"v":5},{"band":"N2","lon":-75.26,"lo":4.49,"hi":4.49,"v":5},
{"band":"H0","lon":-83.7,"lo":44.4,"hi":44.4,"v":2},{"band":"H0","lon":-82.5,"lo":44.2,"hi":44.6,"v":2},{"band":"H0","lon":-81.5,"lo":44.4,"hi":44.4,"v":2},
{"band":"H0b","lon":-86.5,"lo":43.55,"hi":43.55,"v":2},{"band":"H0b","lon":-85.6,"lo":43.4,"hi":43.7,"v":2},{"band":"H0b","lon":-85,"lo":43.55,"hi":43.55,"v":2},
{"band":"A3","lon":-102.47,"lo":60.8,"hi":60.8,"v":9},{"band":"A3","lon":-102,"lo":60.55,"hi":61.17,"v":9},{"band":"A3","lon":-101.2,"lo":61,"hi":61.17,"v":9},
{"band":"A3b","lon":-94.93,"lo":61.1,"hi":61.1,"v":9},{"band":"A3b","lon":-93.9,"lo":61.0,"hi":61.26,"v":9},{"band":"A3b","lon":-92.96,"lo":61.1,"hi":61.1,"v":9},
{"band":"C3","lon":-97.28,"lo":55.39,"hi":55.39,"v":9},{"band":"C3","lon":-96.49,"lo":55.39,"hi":56.42,"v":9},{"band":"C3","lon":-95.9,"lo":55.9,"hi":56.7,"v":9},{"band":"C3","lon":-95.51,"lo":56.83,"hi":56.83,"v":9},
{"band":"D3","lon":-102.67,"lo":53.3,"hi":53.3,"v":9},{"band":"D3","lon":-101.8,"lo":53.1,"hi":53.55,"v":9},{"band":"D3","lon":-100.51,"lo":53.3,"hi":53.3,"v":9},
{"band":"F3a","lon":-99.63,"lo":49.6,"hi":49.6,"v":9},{"band":"F3a","lon":-98.9,"lo":49.4,"hi":49.8,"v":9},{"band":"F3a","lon":-98.26,"lo":49.6,"hi":49.6,"v":9},
{"band":"F3b","lon":-91,"lo":50.3,"hi":50.3,"v":9},{"band":"F3b","lon":-89.8,"lo":50.02,"hi":50.64,"v":9},{"band":"F3b","lon":-88.3,"lo":50.1,"hi":50.5,"v":9},
{"band":"F3c","lon":-87.41,"lo":50.51,"hi":50.51,"v":9},{"band":"F3c","lon":-86.04,"lo":50.51,"hi":52.29,"v":9},{"band":"F3c","lon":-85.06,"lo":51.26,"hi":52.58,"v":9},{"band":"F3c","lon":-83.69,"lo":51.05,"hi":52.7,"v":9},{"band":"F3c","lon":-82.71,"lo":52.41,"hi":52.41,"v":9},
{"band":"F3d","lon":-78.69,"lo":51.55,"hi":51.55,"v":9},{"band":"F3d","lon":-78,"lo":51.3,"hi":51.8,"v":9},{"band":"F3d","lon":-77.41,"lo":51.55,"hi":51.55,"v":9},
{"band":"F3e","lon":-75.26,"lo":52.5,"hi":52.5,"v":9},{"band":"F3e","lon":-74.86,"lo":52.1,"hi":52.8,"v":9},{"band":"F3e","lon":-74.47,"lo":52.5,"hi":52.5,"v":9},
{"band":"F3f","lon":-73.88,"lo":52.5,"hi":52.5,"v":9},{"band":"F3f","lon":-73,"lo":52.3,"hi":52.7,"v":9},{"band":"F3f","lon":-72.02,"lo":52.4,"hi":52.6,"v":9},
{"band":"G3","lon":-100.41,"lo":41.13,"hi":41.75,"v":9},{"band":"G3","lon":-98.45,"lo":40.93,"hi":42.79,"v":9},{"band":"G3","lon":-95.32,"lo":41.13,"hi":43.07,"v":9},{"band":"G3","lon":-93.36,"lo":41.75,"hi":43.82,"v":9},{"band":"G3","lon":-91.39,"lo":41.75,"hi":44.44,"v":9},{"band":"G3","lon":-89.04,"lo":41.75,"hi":44.44,"v":9},{"band":"G3","lon":-88.36,"lo":41.13,"hi":44.44,"v":9},{"band":"G3","lon":-87.41,"lo":41.75,"hi":45.06,"v":9},{"band":"G3","lon":-86.6,"lo":43,"hi":44.8,"v":9},
{"band":"U3","lon":-87.02,"lo":44.44,"hi":45.47,"v":9},{"band":"U3","lon":-84.67,"lo":44.85,"hi":45.88,"v":9},{"band":"U3","lon":-81.73,"lo":44.85,"hi":46.09,"v":9},{"band":"U3","lon":-79.77,"lo":45.06,"hi":46.71,"v":9},{"band":"U3","lon":-78,"lo":45.26,"hi":47.04,"v":9},{"band":"U3","lon":-75.84,"lo":45.47,"hi":46.71,"v":9},{"band":"U3","lon":-74.86,"lo":45.88,"hi":47.54,"v":9},{"band":"U3","lon":-73.69,"lo":46.3,"hi":47.95,"v":9},{"band":"U3","lon":-72,"lo":46.71,"hi":48.16,"v":9},
{"band":"W3","lon":-87.41,"lo":41.75,"hi":43.82,"v":9},{"band":"W3","lon":-85.65,"lo":41.96,"hi":43.2,"v":9},{"band":"W3","lon":-82.71,"lo":42.17,"hi":43.4,"v":9},{"band":"W3","lon":-81.92,"lo":42.79,"hi":44.23,"v":9},{"band":"W3","lon":-79.77,"lo":42.91,"hi":44.15,"v":9},{"band":"W3","lon":-77.81,"lo":43.6,"hi":43.6,"v":9},
{"band":"H3","lon":-95.32,"lo":38.45,"hi":38.45,"v":9},{"band":"H3","lon":-94.14,"lo":37.62,"hi":39.27,"v":9},{"band":"H3","lon":-91.39,"lo":38.24,"hi":39.69,"v":9},{"band":"H3","lon":-89.43,"lo":38.45,"hi":40.1,"v":9},{"band":"H3","lon":-88.36,"lo":38.65,"hi":40.1,"v":9},{"band":"H3","lon":-86.63,"lo":38.45,"hi":40.72,"v":9},{"band":"H3","lon":-84.67,"lo":38.45,"hi":40.31,"v":9},{"band":"H3","lon":-82.71,"lo":39.07,"hi":40.1,"v":9},{"band":"H3","lon":-81.63,"lo":39.48,"hi":39.48,"v":9},
{"band":"H3a","lon":-80.16,"lo":39.48,"hi":39.48,"v":9},{"band":"H3a","lon":-79.6,"lo":39.3,"hi":39.7,"v":9},{"band":"H3a","lon":-79.28,"lo":39.48,"hi":39.48,"v":9},
{"band":"H3b","lon":-96.59,"lo":38.65,"hi":38.65,"v":9},{"band":"H3b","lon":-96.2,"lo":38.5,"hi":38.8,"v":9},{"band":"H3b","lon":-95.8,"lo":38.65,"hi":38.65,"v":9},
{"band":"H3c","lon":-104.5,"lo":37.55,"hi":37.55,"v":9},{"band":"H3c","lon":-104.2,"lo":37.35,"hi":37.7,"v":9},{"band":"H3c","lon":-103.9,"lo":37.55,"hi":37.55,"v":9},
{"band":"H3d","lon":-76.43,"lo":40.5,"hi":40.5,"v":9},{"band":"H3d","lon":-75.5,"lo":40.3,"hi":40.7,"v":9},{"band":"H3d","lon":-74.86,"lo":40.5,"hi":40.5,"v":9},
{"band":"I3","lon":-104.92,"lo":27.09,"hi":27.92,"v":9},{"band":"I3","lon":-103.94,"lo":27.3,"hi":28.75,"v":9},{"band":"I3","lon":-101.2,"lo":27.38,"hi":29.04,"v":9},{"band":"I3","lon":-98.26,"lo":27.71,"hi":28.95,"v":9},{"band":"I3","lon":-96.88,"lo":27.22,"hi":27.92,"v":9},{"band":"I3","lon":-94.34,"lo":26.89,"hi":28.13,"v":9},{"band":"I3","lon":-91.79,"lo":27.09,"hi":28.95,"v":9},{"band":"I3","lon":-90.41,"lo":27.71,"hi":29.37,"v":9},{"band":"I3","lon":-88.36,"lo":27.92,"hi":29.78,"v":9},{"band":"I3","lon":-86.63,"lo":28.13,"hi":29.78,"v":9},{"band":"I3","lon":-84.67,"lo":28.75,"hi":30.81,"v":9},{"band":"I3","lon":-82.71,"lo":28.75,"hi":31.1,"v":9},{"band":"I3","lon":-79.77,"lo":29.37,"hi":30.19,"v":9},{"band":"I3","lon":-78.2,"lo":29.78,"hi":31.02,"v":9},{"band":"I3","lon":-74.86,"lo":29.99,"hi":31.64,"v":9},{"band":"I3","lon":-72,"lo":30.19,"hi":31.93,"v":9},
{"band":"J3","lon":-100.8,"lo":23.46,"hi":23.46,"v":9},{"band":"J3","lon":-99.24,"lo":23.17,"hi":24.62,"v":9},{"band":"J3","lon":-97.28,"lo":23.38,"hi":25.03,"v":9},{"band":"J3","lon":-93.36,"lo":23.79,"hi":25.03,"v":9},{"band":"J3","lon":-89.43,"lo":24.41,"hi":24.95,"v":9},{"band":"J3","lon":-88.85,"lo":24.7,"hi":24.7,"v":9},
{"band":"J3a","lon":-87.12,"lo":25.52,"hi":25.52,"v":9},{"band":"J3a","lon":-86.9,"lo":25.3,"hi":25.75,"v":9},{"band":"J3a","lon":-86.63,"lo":25.5,"hi":25.5,"v":9},
{"band":"J3b","lon":-85.35,"lo":25.56,"hi":25.56,"v":9},{"band":"J3b","lon":-84,"lo":25.3,"hi":25.8,"v":9},{"band":"J3b","lon":-83.49,"lo":25.56,"hi":25.56,"v":9},
{"band":"J3c","lon":-75.65,"lo":26.4,"hi":26.4,"v":9},{"band":"J3c","lon":-74.6,"lo":26.05,"hi":27.1,"v":9},{"band":"J3c","lon":-72,"lo":26.1,"hi":27.05,"v":9},
{"band":"K3","lon":-96.3,"lo":13.46,"hi":13.46,"v":9},{"band":"K3","lon":-95.32,"lo":12.84,"hi":14.08,"v":9},{"band":"K3","lon":-91.39,"lo":12.63,"hi":14.49,"v":9},{"band":"K3","lon":-88.36,"lo":12.43,"hi":14.7,"v":9},{"band":"K3","lon":-86.63,"lo":13.66,"hi":14.7,"v":9},{"band":"K3","lon":-84,"lo":14,"hi":14.8,"v":9},{"band":"K3","lon":-82.71,"lo":14.49,"hi":14.49,"v":9},
{"band":"K3b","lon":-80.35,"lo":14.41,"hi":14.41,"v":9},{"band":"K3b","lon":-79.18,"lo":14.08,"hi":15.73,"v":9},{"band":"K3b","lon":-74.86,"lo":14.49,"hi":16.76,"v":9},{"band":"K3b","lon":-72,"lo":14.49,"hi":16.97,"v":9},
{"band":"M3","lon":-80.94,"lo":7.47,"hi":7.47,"v":9},{"band":"M3","lon":-79.18,"lo":7.05,"hi":8.5,"v":9},{"band":"M3","lon":-77.61,"lo":7.14,"hi":8.71,"v":9},{"band":"M3","lon":-76.43,"lo":7.88,"hi":7.88,"v":9},
{"band":"M3b","lon":-75.65,"lo":8.5,"hi":8.5,"v":9},{"band":"M3b","lon":-73.88,"lo":7.88,"hi":9.2,"v":9},{"band":"M3b","lon":-72,"lo":7.67,"hi":9.33,"v":9},
{"band":"N3","lon":-94.92,"lo":3.54,"hi":3.54,"v":9},{"band":"N3","lon":-93.36,"lo":2.71,"hi":4.37,"v":9},{"band":"N3","lon":-88.36,"lo":2.09,"hi":5.19,"v":9},{"band":"N3","lon":-85.65,"lo":2.71,"hi":4.99,"v":9},{"band":"N3","lon":-81.73,"lo":3.54,"hi":4.78,"v":9},{"band":"N3","lon":-77.81,"lo":4.66,"hi":4.66,"v":9},
{"band":"G4","lon":-98.26,"lo":42.17,"hi":42.17,"v":12},{"band":"G4","lon":-97.67,"lo":41.34,"hi":42.79,"v":12},{"band":"G4","lon":-95.32,"lo":41.55,"hi":42.91,"v":12},{"band":"G4","lon":-92.96,"lo":42.17,"hi":43.82,"v":12},{"band":"G4","lon":-90.41,"lo":42.58,"hi":44.23,"v":12},{"band":"G4","lon":-89.24,"lo":42.79,"hi":42.79,"v":12},
{"band":"U4","lon":-87.02,"lo":44.64,"hi":44.64,"v":12},{"band":"U4","lon":-83.88,"lo":45.06,"hi":45.68,"v":12},{"band":"U4","lon":-81.73,"lo":45.06,"hi":45.88,"v":12},{"band":"U4","lon":-79.18,"lo":45.26,"hi":46.5,"v":12},{"band":"U4","lon":-77.81,"lo":45.47,"hi":46.92,"v":12},{"band":"U4","lon":-74.86,"lo":45.88,"hi":47.12,"v":12},{"band":"U4","lon":-73.3,"lo":46.5,"hi":47.74,"v":12},{"band":"U4","lon":-72,"lo":46.92,"hi":47.95,"v":12},
{"band":"W4a","lon":-87.51,"lo":42.6,"hi":42.6,"v":12},{"band":"W4a","lon":-87,"lo":42,"hi":43,"v":12},{"band":"W4a","lon":-85.5,"lo":42.1,"hi":42.8,"v":12},{"band":"W4a","lon":-83.69,"lo":42.45,"hi":42.45,"v":12},
{"band":"W4b","lon":-81.92,"lo":43,"hi":43,"v":12},{"band":"W4b","lon":-81.7,"lo":42.8,"hi":44,"v":12},{"band":"W4b","lon":-80.16,"lo":43.3,"hi":44,"v":12},{"band":"W4b","lon":-79.9,"lo":43.6,"hi":43.6,"v":12},
{"band":"W4c","lon":-79.5,"lo":43.5,"hi":43.5,"v":12},{"band":"W4c","lon":-78.8,"lo":43.2,"hi":43.8,"v":12},{"band":"W4c","lon":-77.8,"lo":43.5,"hi":43.5,"v":12},
{"band":"W4d","lon":-86.04,"lo":44.6,"hi":44.6,"v":12},{"band":"W4d","lon":-85.6,"lo":44.2,"hi":44.9,"v":12},{"band":"W4d","lon":-85.2,"lo":44.55,"hi":44.55,"v":12},
{"band":"H4","lon":-95,"lo":38.45,"hi":38.45,"v":12},{"band":"H4","lon":-92.8,"lo":37.9,"hi":39,"v":12},{"band":"H4","lon":-90.8,"lo":38.45,"hi":38.45,"v":12},
{"band":"H4b","lon":-91.5,"lo":39.3,"hi":39.3,"v":12},{"band":"H4b","lon":-89.5,"lo":38.75,"hi":39.95,"v":12},{"band":"H4b","lon":-87.5,"lo":38.9,"hi":40,"v":12},{"band":"H4b","lon":-85.7,"lo":39.1,"hi":39.6,"v":12},{"band":"H4b","lon":-84.6,"lo":39,"hi":39.8,"v":12},{"band":"H4b","lon":-83,"lo":39.35,"hi":39.35,"v":12},
{"band":"I4a","lon":-105,"lo":27.3,"hi":27.9,"v":12},{"band":"I4a","lon":-103.4,"lo":27.55,"hi":27.55,"v":12},
{"band":"I4b","lon":-100.9,"lo":28.4,"hi":28.4,"v":12},{"band":"I4b","lon":-99.9,"lo":27.9,"hi":28.8,"v":12},{"band":"I4b","lon":-99,"lo":28.4,"hi":28.4,"v":12},
{"band":"I4c","lon":-97.2,"lo":27.5,"hi":27.5,"v":12},{"band":"I4c","lon":-94.3,"lo":27,"hi":27.95,"v":12},{"band":"I4c","lon":-92.2,"lo":27,"hi":28.3,"v":12},{"band":"I4c","lon":-91.4,"lo":27.4,"hi":28.9,"v":12},{"band":"I4c","lon":-88.4,"lo":28,"hi":29.4,"v":12},{"band":"I4c","lon":-86.2,"lo":28.4,"hi":29.6,"v":12},{"band":"I4c","lon":-84.67,"lo":29,"hi":30.5,"v":12},{"band":"I4c","lon":-82.7,"lo":28.9,"hi":31,"v":12},{"band":"I4c","lon":-81,"lo":29.5,"hi":30.8,"v":12},{"band":"I4c","lon":-79.6,"lo":30.3,"hi":30.3,"v":12},
{"band":"I4e","lon":-78.8,"lo":30.4,"hi":30.4,"v":12},{"band":"I4e","lon":-76.7,"lo":29.9,"hi":31.2,"v":12},{"band":"I4e","lon":-74.5,"lo":30,"hi":31.3,"v":12},{"band":"I4e","lon":-72,"lo":30.4,"hi":31.6,"v":12},
{"band":"J4","lon":-97.5,"lo":24.3,"hi":24.3,"v":12},{"band":"J4","lon":-93.4,"lo":23.85,"hi":24.95,"v":12},{"band":"J4","lon":-90,"lo":24.1,"hi":24.8,"v":12},{"band":"J4","lon":-89,"lo":24.4,"hi":24.4,"v":12},
{"band":"J4b","lon":-77.81,"lo":25.55,"hi":25.55,"v":12},{"band":"J4b","lon":-77.2,"lo":25,"hi":26.1,"v":12},{"band":"J4b","lon":-76.63,"lo":25.5,"hi":25.5,"v":12},
{"band":"J4c","lon":-75.6,"lo":26.6,"hi":26.6,"v":12},{"band":"J4c","lon":-74.5,"lo":26.2,"hi":27,"v":12},{"band":"J4c","lon":-72,"lo":26.2,"hi":26.9,"v":12},
{"band":"K4","lon":-96.3,"lo":13.46,"hi":13.46,"v":12},{"band":"K4","lon":-94.9,"lo":12.9,"hi":14,"v":12},{"band":"K4","lon":-91.39,"lo":13,"hi":14.2,"v":12},{"band":"K4","lon":-88.36,"lo":13.2,"hi":14.6,"v":12},{"band":"K4","lon":-86.4,"lo":14.4,"hi":14.4,"v":12},
{"band":"K4b","lon":-79.5,"lo":15.2,"hi":15.2,"v":12},{"band":"K4b","lon":-77,"lo":14.7,"hi":15.95,"v":12},{"band":"K4b","lon":-74.86,"lo":14.9,"hi":16.6,"v":12},{"band":"K4b","lon":-72,"lo":14.9,"hi":16.9,"v":12},
{"band":"M4","lon":-75.2,"lo":8.5,"hi":8.5,"v":12},{"band":"M4","lon":-73.3,"lo":7.95,"hi":9.05,"v":12},{"band":"M4","lon":-72,"lo":7.95,"hi":9.1,"v":12},
{"band":"N4","lon":-94.5,"lo":3.54,"hi":3.54,"v":12},{"band":"N4","lon":-92,"lo":2.9,"hi":4.2,"v":12},{"band":"N4","lon":-88.36,"lo":2.4,"hi":5,"v":12},{"band":"N4","lon":-85.6,"lo":2.9,"hi":4.8,"v":12},{"band":"N4","lon":-82.8,"lo":3.5,"hi":4.3,"v":12},{"band":"N4","lon":-82,"lo":3.9,"hi":3.9,"v":12},
{"band":"G5","lon":-97.6,"lo":42.4,"hi":42.4,"v":16},{"band":"G5","lon":-96.3,"lo":42,"hi":42.8,"v":16},{"band":"G5","lon":-92.5,"lo":42.1,"hi":42.9,"v":16},{"band":"G5","lon":-91.6,"lo":42.6,"hi":42.6,"v":16},
{"band":"U5","lon":-83.88,"lo":45.4,"hi":45.4,"v":16},{"band":"U5","lon":-81.73,"lo":45.14,"hi":45.68,"v":16},{"band":"U5","lon":-79.18,"lo":45.34,"hi":46.3,"v":16},{"band":"U5","lon":-77.81,"lo":45.55,"hi":46.79,"v":16},{"band":"U5","lon":-74.86,"lo":45.97,"hi":46.92,"v":16},{"band":"U5","lon":-73.3,"lo":46.63,"hi":47.54,"v":16},{"band":"U5","lon":-72,"lo":46.79,"hi":47.74,"v":16},
{"band":"W5","lon":-87.2,"lo":42.6,"hi":42.6,"v":16},{"band":"W5","lon":-86.7,"lo":42.3,"hi":42.9,"v":16},{"band":"W5","lon":-86,"lo":42.6,"hi":42.6,"v":16},
{"band":"H5a","lon":-94.34,"lo":38.45,"hi":38.45,"v":16},{"band":"H5a","lon":-92.8,"lo":38.03,"hi":38.86,"v":16},{"band":"H5a","lon":-91.2,"lo":38.45,"hi":38.45,"v":16},
{"band":"H5b","lon":-91,"lo":39.3,"hi":39.3,"v":16},{"band":"H5b","lon":-89.5,"lo":38.9,"hi":39.7,"v":16},{"band":"H5b","lon":-87.5,"lo":39.1,"hi":39.85,"v":16},{"band":"H5b","lon":-85.94,"lo":39.4,"hi":39.4,"v":16},
{"band":"H5c","lon":-85.65,"lo":39.4,"hi":39.4,"v":16},{"band":"H5c","lon":-84.6,"lo":39.15,"hi":39.7,"v":16},{"band":"H5c","lon":-83.39,"lo":39.35,"hi":39.35,"v":16},
{"band":"I5a","lon":-104.92,"lo":27.4,"hi":27.75,"v":16},{"band":"I5a","lon":-103.6,"lo":27.55,"hi":27.55,"v":16},
{"band":"I5b","lon":-100.6,"lo":28.4,"hi":28.4,"v":16},{"band":"I5b","lon":-99.9,"lo":28,"hi":28.7,"v":16},{"band":"I5b","lon":-99.3,"lo":28.4,"hi":28.4,"v":16},
{"band":"I5c","lon":-96.88,"lo":27.5,"hi":27.5,"v":16},{"band":"I5c","lon":-94.3,"lo":27.1,"hi":27.8,"v":16},{"band":"I5c","lon":-92.2,"lo":27.1,"hi":27.8,"v":16},{"band":"I5c","lon":-91.39,"lo":27.5,"hi":28.75,"v":16},{"band":"I5c","lon":-88.36,"lo":28.13,"hi":29.16,"v":16},{"band":"I5c","lon":-86.04,"lo":28.54,"hi":29.57,"v":16},{"band":"I5c","lon":-85.5,"lo":28.9,"hi":28.9,"v":16},
{"band":"I5d","lon":-83.3,"lo":30.2,"hi":30.2,"v":16},{"band":"I5d","lon":-82.7,"lo":29.9,"hi":30.9,"v":16},{"band":"I5d","lon":-81.5,"lo":29.9,"hi":30.8,"v":16},{"band":"I5d","lon":-80.4,"lo":30.3,"hi":30.3,"v":16},
{"band":"I5e","lon":-78.2,"lo":30.4,"hi":30.4,"v":16},{"band":"I5e","lon":-76.7,"lo":30,"hi":31.1,"v":16},{"band":"I5e","lon":-74.5,"lo":30.1,"hi":31.1,"v":16},{"band":"I5e","lon":-73.7,"lo":30.6,"hi":30.6,"v":16},
{"band":"I5f","lon":-73.1,"lo":30.7,"hi":30.7,"v":16},{"band":"I5f","lon":-72,"lo":30.5,"hi":31.2,"v":16},
{"band":"J5","lon":-96.3,"lo":24.2,"hi":24.2,"v":16},{"band":"J5","lon":-93.4,"lo":24.05,"hi":24.7,"v":16},{"band":"J5","lon":-90,"lo":24.2,"hi":24.6,"v":16},{"band":"J5","lon":-89.43,"lo":24.4,"hi":24.4,"v":16},
{"band":"J5b","lon":-77.6,"lo":25.55,"hi":25.55,"v":16},{"band":"J5b","lon":-77.2,"lo":25.25,"hi":25.85,"v":16},{"band":"J5b","lon":-76.8,"lo":25.5,"hi":25.5,"v":16},
{"band":"J5c","lon":-75.25,"lo":26.6,"hi":26.6,"v":16},{"band":"J5c","lon":-74.5,"lo":26.4,"hi":26.9,"v":16},{"band":"J5c","lon":-73.88,"lo":26.6,"hi":26.6,"v":16},
{"band":"J5d","lon":-73.1,"lo":26.5,"hi":26.5,"v":16},{"band":"J5d","lon":-72,"lo":26.3,"hi":26.7,"v":16},
{"band":"K5","lon":-95.9,"lo":13.46,"hi":13.46,"v":16},{"band":"K5","lon":-94.92,"lo":13.05,"hi":13.87,"v":16},{"band":"K5","lon":-91.39,"lo":13.17,"hi":13.66,"v":16},{"band":"K5","lon":-90.2,"lo":13.46,"hi":13.46,"v":16},
{"band":"K5a","lon":-88.8,"lo":14.4,"hi":14.4,"v":16},{"band":"K5a","lon":-88.3,"lo":14.08,"hi":14.7,"v":16},{"band":"K5a","lon":-86.6,"lo":14.4,"hi":14.4,"v":16},
{"band":"K5b","lon":-78.98,"lo":15.3,"hi":15.3,"v":16},{"band":"K5b","lon":-77,"lo":14.9,"hi":15.94,"v":16},{"band":"K5b","lon":-75.26,"lo":15,"hi":15.9,"v":16},{"band":"K5b","lon":-74.86,"lo":15.11,"hi":16.5,"v":16},{"band":"K5b","lon":-72,"lo":15.11,"hi":16.76,"v":16},
{"band":"M5","lon":-78.79,"lo":7.47,"hi":7.47,"v":16},{"band":"M5","lon":-78.3,"lo":7.25,"hi":7.7,"v":16},{"band":"M5","lon":-77.81,"lo":7.47,"hi":7.47,"v":16},
{"band":"M5b","lon":-74.86,"lo":8.5,"hi":8.5,"v":16},{"band":"M5b","lon":-73.3,"lo":8.09,"hi":8.91,"v":16},{"band":"M5b","lon":-72,"lo":8.09,"hi":8.91,"v":16},
{"band":"N5","lon":-94.34,"lo":3.54,"hi":3.54,"v":16},{"band":"N5","lon":-92.37,"lo":3.13,"hi":3.95,"v":16},{"band":"N5","lon":-89.83,"lo":3.33,"hi":3.75,"v":16},{"band":"N5","lon":-88.36,"lo":2.92,"hi":4.78,"v":16},{"band":"N5","lon":-86.63,"lo":2.92,"hi":4.57,"v":16},{"band":"N5","lon":-83.69,"lo":3.33,"hi":4.57,"v":16},{"band":"N5","lon":-82.71,"lo":3.95,"hi":3.95,"v":16},
{"band":"G6","lon":-96.3,"lo":42.5,"hi":42.5,"v":19},{"band":"G6","lon":-94.5,"lo":42.17,"hi":42.79,"v":19},{"band":"G6","lon":-92.37,"lo":42.5,"hi":42.5,"v":19},
{"band":"U6","lon":-81.73,"lo":45.5,"hi":45.5,"v":19},{"band":"U6","lon":-80.75,"lo":45.26,"hi":45.68,"v":19},{"band":"U6","lon":-79.57,"lo":45.26,"hi":45.68,"v":19},{"band":"U6","lon":-79.18,"lo":45.3,"hi":45.8,"v":19},{"band":"U6","lon":-78.39,"lo":45.55,"hi":46.79,"v":19},{"band":"U6","lon":-76.43,"lo":46.09,"hi":47.04,"v":19},{"band":"U6","lon":-75.06,"lo":46.09,"hi":46.71,"v":19},{"band":"U6","lon":-73.88,"lo":46.5,"hi":46.5,"v":19},
{"band":"U6b","lon":-73.5,"lo":47.45,"hi":47.45,"v":19},{"band":"U6b","lon":-72,"lo":47.2,"hi":47.75,"v":19},
{"band":"I6a","lon":-94.43,"lo":27.5,"hi":27.5,"v":19},{"band":"I6a","lon":-93.2,"lo":27.3,"hi":27.7,"v":19},{"band":"I6a","lon":-92.2,"lo":27.5,"hi":27.5,"v":19},
{"band":"I6b","lon":-91.39,"lo":28.4,"hi":28.4,"v":19},{"band":"I6b","lon":-90.5,"lo":28.15,"hi":28.75,"v":19},{"band":"I6b","lon":-89,"lo":28.25,"hi":28.6,"v":19},{"band":"I6b","lon":-88.65,"lo":28.45,"hi":28.45,"v":19},
{"band":"I6c","lon":-76.82,"lo":30.52,"hi":30.52,"v":19},{"band":"I6c","lon":-76,"lo":30.35,"hi":30.75,"v":19},{"band":"I6c","lon":-74.3,"lo":30.5,"hi":30.5,"v":19},
{"band":"K6","lon":-94.43,"lo":13.46,"hi":13.46,"v":19},{"band":"K6","lon":-92.5,"lo":13.35,"hi":13.6,"v":19},{"band":"K6","lon":-91.4,"lo":13.46,"hi":13.46,"v":19},
{"band":"K6b","lon":-75.35,"lo":15.4,"hi":15.4,"v":19},{"band":"K6b","lon":-73.88,"lo":15.32,"hi":16.35,"v":19},{"band":"K6b","lon":-72.9,"lo":15.52,"hi":16.76,"v":19},{"band":"K6b","lon":-72,"lo":15.94,"hi":16.64,"v":19},
{"band":"M6","lon":-72.7,"lo":8.54,"hi":8.54,"v":19},{"band":"M6","lon":-72,"lo":8.42,"hi":8.66,"v":19},
{"band":"N6","lon":-87.51,"lo":3.6,"hi":3.6,"v":19},{"band":"N6","lon":-86.6,"lo":3.21,"hi":3.95,"v":19},{"band":"N6","lon":-85.1,"lo":3.3,"hi":3.8,"v":19},{"band":"N6","lon":-83.9,"lo":3.55,"hi":3.55,"v":19},
{"band":"G7","lon":-95.7,"lo":42.5,"hi":42.5,"v":23},{"band":"G7","lon":-94.3,"lo":42.2,"hi":42.75,"v":23},{"band":"G7","lon":-93.36,"lo":42.5,"hi":42.5,"v":23},
{"band":"U7a","lon":-81.04,"lo":45.47,"hi":45.47,"v":23},{"band":"U7a","lon":-80.3,"lo":45.3,"hi":45.65,"v":23},{"band":"U7a","lon":-79.96,"lo":45.47,"hi":45.47,"v":23},
{"band":"U7b","lon":-78.59,"lo":46.5,"hi":46.5,"v":23},{"band":"U7b","lon":-77.5,"lo":46.3,"hi":46.85,"v":23},{"band":"U7b","lon":-76,"lo":46.2,"hi":46.75,"v":23},{"band":"U7b","lon":-75.06,"lo":46.45,"hi":46.45,"v":23},
{"band":"U7c","lon":-73.2,"lo":47.5,"hi":47.5,"v":23},{"band":"U7c","lon":-72,"lo":47.35,"hi":47.65,"v":23},
{"band":"I7a","lon":-94,"lo":27.5,"hi":27.5,"v":23},{"band":"I7a","lon":-93.3,"lo":27.38,"hi":27.62,"v":23},{"band":"I7a","lon":-92.6,"lo":27.5,"hi":27.5,"v":23},
{"band":"I7b","lon":-91.2,"lo":28.45,"hi":28.45,"v":23},{"band":"I7b","lon":-90.4,"lo":28.2,"hi":28.7,"v":23},{"band":"I7b","lon":-89.6,"lo":28.45,"hi":28.45,"v":23},
{"band":"I7c","lon":-76.6,"lo":30.5,"hi":30.5,"v":23},{"band":"I7c","lon":-76.2,"lo":30.38,"hi":30.7,"v":23},{"band":"I7c","lon":-75.6,"lo":30.5,"hi":30.5,"v":23},
{"band":"K7","lon":-73.5,"lo":16.2,"hi":16.2,"v":23},{"band":"K7","lon":-73,"lo":15.95,"hi":16.5,"v":23},{"band":"K7","lon":-72.5,"lo":16.2,"hi":16.2,"v":23},
{"band":"N7","lon":-87.3,"lo":3.58,"hi":3.58,"v":23},{"band":"N7","lon":-86.4,"lo":3.3,"hi":3.85,"v":23},{"band":"N7","lon":-85.5,"lo":3.58,"hi":3.58,"v":23},
{"band":"G8","lon":-95.3,"lo":42.5,"hi":42.5,"v":26},{"band":"G8","lon":-94.4,"lo":42.25,"hi":42.7,"v":26},{"band":"G8","lon":-93.94,"lo":42.5,"hi":42.5,"v":26},
{"band":"U8","lon":-78.39,"lo":46.4,"hi":46.4,"v":26},{"band":"U8","lon":-77,"lo":46.25,"hi":46.65,"v":26},{"band":"U8","lon":-75.06,"lo":46.4,"hi":46.4,"v":26},
{"band":"G9","lon":-95,"lo":42.48,"hi":42.48,"v":30},{"band":"G9","lon":-94.4,"lo":42.3,"hi":42.65,"v":30},{"band":"G9","lon":-94.1,"lo":42.48,"hi":42.48,"v":30},
{"band":"U9","lon":-78.2,"lo":46.45,"hi":46.45,"v":30},{"band":"U9","lon":-76.8,"lo":46.33,"hi":46.6,"v":30},{"band":"U9","lon":-75.6,"lo":46.45,"hi":46.45,"v":30},
{"band":"U10","lon":-77.41,"lo":46.5,"hi":46.5,"v":33},{"band":"U10","lon":-76.7,"lo":46.35,"hi":46.65,"v":33},{"band":"U10","lon":-76.04,"lo":46.5,"hi":46.5,"v":33},
{"band":"B0","lon":-80.78,"lo":23.6,"hi":24,"v":-2},{"band":"B0","lon":-80.5,"lo":23.5,"hi":24.4,"v":-2},{"band":"B0","lon":-80.36,"lo":23.5,"hi":24,"v":-2}
],"bar":[{"c0":0,"c1":3.545,"v":1.77},{"c0":3.545,"c1":7.09,"v":5.32},{"c0":7.09,"c1":10.64,"v":8.86},{"c0":10.64,"c1":14.18,"v":12.41},{"c0":14.18,"c1":17.73,"v":15.96},{"c0":17.73,"c1":21.27,"v":19.5},{"c0":21.27,"c1":24.82,"v":23.04},{"c0":24.82,"c1":28.36,"v":26.59},{"c0":28.36,"c1":31.91,"v":30.14},{"c0":31.91,"c1":35.46,"v":33.68}]},
"hconcat":[
{"width":593,"height":539,"encoding":{"x":{"type":"quantitative","title":null,"scale":{"domain":[-105,-68.96],"nice":false,"zero":false},"axis":{"title":null,"values":[-102,-99,-96,-93,-90,-87,-84,-81,-78,-75,-72],"offset":-63,"labelExpr":"abs(datum.value)+'W'"}},"y":{"type":"quantitative","title":null,"scale":{"domain":[-6.4,62.52],"nice":false,"zero":false},"axis":{"title":null,"values":[6,11,16,21,26,31,36,41,46,51,56],"labelExpr":"upper(timeFormat(datetime(2014,3,datum.value),'%-d%b%Y'))"}}},"layer":[
{"data":{"values":[{"w":-105,"e":-72,"s":1.65,"n":61.48}]},"mark":{"type":"rect","fill":"#2d8fff"},"encoding":{"x":{"field":"w"},"x2":{"field":"e"},"y":{"field":"s"},"y2":{"field":"n"}}},
{"data":{"name":"left"},"mark":{"type":"rect","strokeWidth":0},"encoding":{"x":{"field":"lon0"},"x2":{"field":"lon1"},"y":{"field":"d0"},"y2":{"field":"d1"},"color":{"field":"v","type":"quantitative","legend":null,"scale":{"type":"threshold","domain":[0,3.545,7.09,10.64,14.18,17.73,21.27,24.82,28.36,31.91],"range":["#0000ff","#2d8fff","#64aeff","#a8d2ff","#cfeaff","#f2fdff","#ffff33","#ffe000","#ff9933","#ff6600","#ff0000"]}}}},
{"data":{"values":[{"w":-105,"e":-72,"s":1.65,"n":61.48}]},"mark":{"type":"rect","fillOpacity":0,"stroke":"#222","strokeWidth":2},"encoding":{"x":{"field":"w"},"x2":{"field":"e"},"y":{"field":"s"},"y2":{"field":"n"}}}
]},
{"width":561,"height":539,"encoding":{"x":{"type":"quantitative","title":null,"scale":{"domain":[-105,-72],"nice":false,"zero":false},"axis":{"title":null,"values":[-102,-99,-96,-93,-90,-87,-84,-81,-78,-75,-72],"offset":-43,"labelExpr":"abs(datum.value)+'W'"}},"y":{"type":"quantitative","title":null,"scale":{"domain":[-3.78,62.98],"nice":false,"zero":false},"axis":{"title":null,"values":[6,11,16,21,26,31,36,41,46,51,56],"labelExpr":"upper(timeFormat(datetime(2014,3,datum.value),'%-d%b%Y'))"}}},"layer":[
{"data":{"values":[{"w":-105,"e":-72,"s":1.54,"n":61.49}]},"mark":{"type":"rect","fill":"#2d8fff"},"encoding":{"x":{"field":"w"},"x2":{"field":"e"},"y":{"field":"s"},"y2":{"field":"n"}}},
{"data":{"name":"right"},"mark":{"type":"area","interpolate":"monotone","orient":"vertical"},"encoding":{"x":{"field":"lon"},"y":{"field":"lo"},"y2":{"field":"hi"},"detail":{"field":"band"},"color":{"field":"v","type":"quantitative","legend":null,"scale":{"type":"threshold","domain":[0,3.545,7.09,10.64,14.18,17.73,21.27,24.82,28.36,31.91],"range":["#0000ff","#2d8fff","#64aeff","#a8d2ff","#cfeaff","#f2fdff","#ffff33","#ffe000","#ff9933","#ff6600","#ff0000"]}}}},
{"data":{"values":[{"w":-105,"e":-72,"s":1.54,"n":61.49}]},"mark":{"type":"rect","fillOpacity":0,"stroke":"#222","strokeWidth":2},"encoding":{"x":{"field":"w"},"x2":{"field":"e"},"y":{"field":"s"},"y2":{"field":"n"}}}
]},
{"width":23,"height":539,"encoding":{"y":{"type":"quantitative","title":null,"scale":{"domain":[-2.47,37.93],"nice":false,"zero":false},"axis":{"title":null,"orient":"right","values":[0,3.545,7.09,10.64,14.18,17.73,21.27,24.82,28.36,31.91,35.46],"labelExpr":"''+datum.value","labelFontSize":18,"labelBaseline":"bottom","tickSize":2,"labelPadding":5,"labelOffset":1}}},"layer":[
{"data":{"name":"bar"},"mark":{"type":"rect","strokeWidth":0},"encoding":{"y":{"field":"c0"},"y2":{"field":"c1"},"color":{"field":"v","type":"quantitative","legend":null,"scale":{"type":"threshold","domain":[0,3.545,7.09,10.64,14.18,17.73,21.27,24.82,28.36,31.91],"range":["#0000ff","#2d8fff","#64aeff","#a8d2ff","#cfeaff","#f2fdff","#ffff33","#ffe000","#ff9933","#ff6600","#ff0000"]}}}},
{"data":{"values":[{"c0":0,"c1":35.46}]},"mark":{"type":"rect","fillOpacity":0,"stroke":"#777","strokeWidth":2},"encoding":{"y":{"field":"c0"},"y2":{"field":"c1"}}},
{"data":{"values":[{"c0":36.8}]},"mark":{"type":"point","filled":true,"opacity":1,"shape":"M-0.77,1L0.77,1L0,-1Z","size":900,"fill":"#d40000","stroke":"#777","strokeWidth":0.06},"encoding":{"y":{"field":"c0"}}},
{"data":{"values":[{"c0":-1.42}]},"mark":{"type":"point","filled":true,"opacity":1,"shape":"M-0.82,-1L0.82,-1L0,1Z","size":784,"fill":"#0000ff","stroke":"#777","strokeWidth":0.06},"encoding":{"y":{"field":"c0"}}}
]}
]}
